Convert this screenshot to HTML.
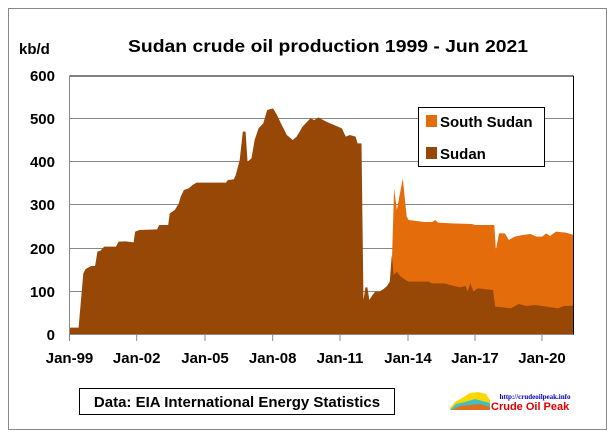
<!DOCTYPE html>
<html><head><style>
body{margin:0;background:#fff;}
svg text{font-family:"Liberation Sans",sans-serif;font-weight:bold;}
</style></head><body>
<svg width="613" height="438" viewBox="0 0 613 438" xmlns="http://www.w3.org/2000/svg">
<rect x="0" y="0" width="613" height="438" fill="#fff"/>
<rect x="8.5" y="8.5" width="598" height="421" fill="#fff" stroke="#888" stroke-width="1"/>
<text x="328" y="52" font-size="17.5" text-anchor="middle" fill="#000" textLength="400" lengthAdjust="spacingAndGlyphs">Sudan crude oil production 1999 - Jun 2021</text>
<text x="19" y="54" font-size="15" fill="#000">kb/d</text>
<g stroke="#888" stroke-width="1">
<line x1="69.5" y1="118.5" x2="573" y2="118.5"/>
<line x1="69.5" y1="161.5" x2="573" y2="161.5"/>
<line x1="69.5" y1="204.5" x2="573" y2="204.5"/>
<line x1="69.5" y1="248.5" x2="573" y2="248.5"/>
<line x1="69.5" y1="291.5" x2="573" y2="291.5"/>
</g>
<g transform="scale(0.39293,0.33333)">
<polygon fill="#E46C0A" points="993,900 997,800 1003,565 1010,630 1025,535 1035,650 1040,660 1080,666 1100,666 1108,660 1115,668 1150,670 1200,672 1210,675 1258,675 1262,750 1270,700 1285,700 1295,720 1310,710 1330,705 1350,702 1365,710 1380,710 1390,700 1400,708 1415,695 1440,698 1460,705 1460,1003 993,1003"/>
<polygon fill="#974806" points="177,1003 177,983 200,983 212,820 218,807 232,798 242,798 248,755 256,752 265,740 295,740 302,725 320,724 340,727 344,695 355,690 400,688 405,675 428,675 432,640 445,630 455,610 460,590 468,570 480,565 490,555 500,548 575,548 580,540 595,538 600,525 610,480 618,395 625,395 630,485 640,475 648,420 658,385 670,370 680,330 695,325 705,345 715,370 730,405 745,420 755,410 770,380 790,355 800,360 810,352 830,365 870,385 880,410 890,405 905,410 910,430 920,430 925,900 930,862 935,862 940,900 948,885 955,875 965,875 975,868 985,858 992,845 997,765 1002,825 1010,815 1018,828 1030,838 1040,845 1090,845 1100,850 1130,850 1170,862 1185,858 1190,875 1197,850 1205,875 1215,865 1255,870 1260,920 1280,922 1300,925 1320,912 1340,918 1360,915 1380,918 1420,925 1435,918 1460,917 1460,1003"/>
</g>
<line x1="69.5" y1="76" x2="573.5" y2="76" stroke="#000"/>
<line x1="573.5" y1="76" x2="573.5" y2="335" stroke="#000"/>
<line x1="69.5" y1="76" x2="69.5" y2="335" stroke="#888"/>
<line x1="69.5" y1="334.5" x2="573.5" y2="334.5" stroke="#888"/>
<g stroke="#888">
<line x1="69.5" y1="335" x2="69.5" y2="341"/><line x1="136.7" y1="335" x2="136.7" y2="341"/><line x1="205" y1="335" x2="205" y2="341"/><line x1="272.7" y1="335" x2="272.7" y2="341"/><line x1="340" y1="335" x2="340" y2="341"/><line x1="408" y1="335" x2="408" y2="341"/><line x1="475" y1="335" x2="475" y2="341"/><line x1="542" y1="335" x2="542" y2="341"/>
</g>
<g font-size="15" text-anchor="end" fill="#000">
<text x="55" y="81">600</text><text x="55" y="124">500</text><text x="55" y="167">400</text><text x="55" y="210">300</text><text x="55" y="254">200</text><text x="55" y="297">100</text><text x="55" y="340">0</text>
</g>
<g font-size="15" text-anchor="middle" fill="#000">
<text x="69.5" y="363">Jan-99</text><text x="136.7" y="363">Jan-02</text><text x="205" y="363">Jan-05</text><text x="272.7" y="363">Jan-08</text><text x="340" y="363">Jan-11</text><text x="408" y="363">Jan-14</text><text x="475" y="363">Jan-17</text><text x="542" y="363">Jan-20</text>
</g>
<rect x="418.5" y="107.5" width="126" height="59" fill="#fff" stroke="#000"/>
<rect x="426" y="115" width="11" height="12" fill="#E46C0A"/>
<rect x="426" y="147" width="11" height="12" fill="#974806"/>
<text x="440" y="127" font-size="15" font-weight="normal" fill="#000">South Sudan</text>
<text x="440" y="159" font-size="15" fill="#000">Sudan</text>
<rect x="79.5" y="388.5" width="315" height="26" fill="#fff" stroke="#000"/>
<text x="237" y="407" font-size="15" text-anchor="middle" fill="#000">Data: EIA International Energy Statistics</text>
<g>
<polygon points="450,408 455,402 462,398 470,393 478,392 486,394 490,400 490,410 450,410" fill="#ffd700"/>
<polygon points="450,410 456,404 465,402 475,399 490,403 490,410" fill="#40c0c0"/>
<polygon points="452,410 460,406 470,405 480,404 490,407 490,410" fill="#e07020"/>
<text x="535" y="399" font-size="7" fill="#00c" text-anchor="middle" style="font-family:'Liberation Serif',serif">http://crudeoilpeak.info</text>
<text x="491" y="410" font-size="11" fill="#e00000">Crude Oil Peak</text>
</g>
</svg>
</body></html>
